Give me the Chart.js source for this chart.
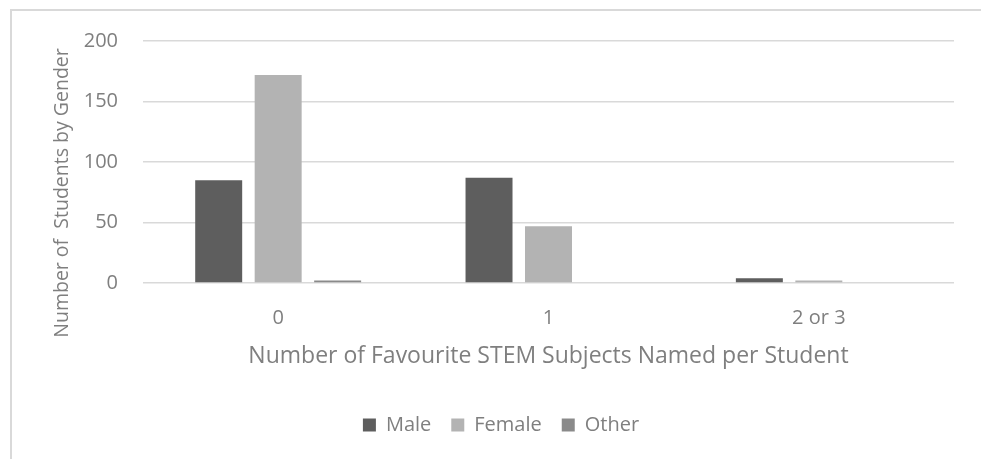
<!DOCTYPE html>
<html>
<head>
<meta charset="utf-8">
<script src="https://cdn.jsdelivr.net/npm/chart.js@4"></script>
<style>
  html, body { margin: 0; padding: 0; background: #fff; }
  #wrap { position: relative; width: 981px; height: 459px; }
  #frame { position: absolute; left: 10px; top: 9px; right: 0; bottom: 0; border-top: 2px solid #d9d9d9; border-left: 2px solid #d9d9d9; }
  canvas { position: absolute; left: 0; top: 0; }
</style>
</head>
<body>
<div id="wrap">
  <div id="frame"></div>
  <canvas id="chart" width="981" height="459"></canvas>
</div>
<script>
// data
const categories = ["0", "1", "2 or 3"];
const maleValues = [85, 87, 4];
const femaleValues = [172, 47, 2];
const otherValues = [2, 0, 0];
const yTicks = [0, 50, 100, 150, 200];

const textColor = "#7f7f7f";
const fontFamily = "'Open Sans', 'Liberation Sans', sans-serif";

// y axis title drawn by hand so it can sit where Excel puts it
const yTitlePlugin = {
  id: "yTitle",
  afterDraw(chart) {
    const ctx = chart.ctx;
    ctx.save();
    ctx.translate(62, 193);
    ctx.rotate(-Math.PI / 2);
    ctx.font = "19.5px " + fontFamily;
    ctx.fillStyle = textColor;
    ctx.textAlign = "center";
    ctx.textBaseline = "middle";
    ctx.fillText("Number of  Students by Gender", 0, 0);
    ctx.restore();
  },
};

// the original legend sits a little right of the canvas centre
const legendShift = {
  id: "legendShift",
  beforeDraw(chart) {
    chart.legend.left += 24;
    chart.legend.right += 24;
  },
};

const ctx = document.getElementById("chart").getContext("2d");
new Chart(ctx, {
  type: "bar",
  data: {
    labels: categories,
    datasets: [
      { label: "Male", data: maleValues, backgroundColor: "#5e5e5e" },
      { label: "Female", data: femaleValues, backgroundColor: "#b3b3b3" },
      { label: "Other", data: otherValues, backgroundColor: "#8a8a8a" },
    ],
  },
  options: {
    responsive: false,
    animation: false,
    layout: { padding: { left: 0, right: 27, top: 41, bottom: 14 } },
    categoryPercentage: 0.66,
    barPercentage: 0.79,
    plugins: {
      legend: {
        position: "bottom",
        labels: {
          color: textColor,
          font: { family: fontFamily, size: 20 },
          boxWidth: 13,
          boxHeight: 13,
          padding: 20,
        },
      },
      tooltip: { enabled: false },
    },
    scales: {
      x: {
        grid: { display: false },
        border: { display: false },
        ticks: {
          color: textColor,
          font: { family: fontFamily, size: 20 },
          padding: 15,
        },
        title: {
          display: true,
          text: "Number of Favourite STEM Subjects Named per Student",
          color: textColor,
          font: { family: fontFamily, size: 23 },
          padding: { top: 0, bottom: 25 },
        },
        afterFit(scale) {
          scale.height = 112;
        },
      },
      y: {
        min: 0,
        max: 200,
        afterBuildTicks(scale) {
          scale.ticks = yTicks.map((v) => ({ value: v }));
        },
        grid: { color: "#d9d9d9", lineWidth: 1.5, drawTicks: false },
        border: { display: false },
        ticks: {
          color: textColor,
          font: { family: fontFamily, size: 20 },
          padding: 25,
        },
        afterFit(scale) {
          scale.width = 143;
        },
      },
    },
  },
  plugins: [yTitlePlugin, legendShift],
});
</script>
</body>
</html>
